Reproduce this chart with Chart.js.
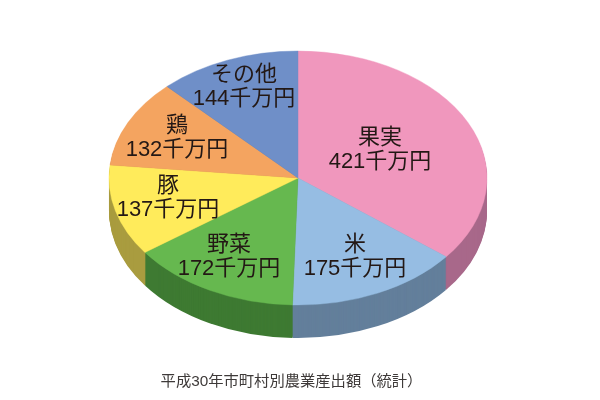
<!DOCTYPE html>
<html lang="ja">
<head>
<meta charset="utf-8">
<style>
  html, body { margin: 0; padding: 0; background: #fff; }
  #wrap { width: 600px; height: 400px; }
</style>
<script src="https://cdn.jsdelivr.net/npm/chart.js@4"></script>
</head>
<body>
<div id="wrap"><canvas id="pie"></canvas></div>
<script>
const categories = ['果実', '米', '野菜', '豚', '鶏', 'その他'];
const values = [421, 175, 172, 137, 132, 144];
const valueLabels = ['421千万円', '175千万円', '172千万円', '137千万円', '132千万円', '144千万円'];
const topColors = ['#f097bd', '#96bde3', '#66b84f', '#ffeb5b', '#f4a460', '#6f8fc8'];
const sideColors = ['#a8688a', '#637f9b', '#3e7a32', '#a99c3f', '#a8703f', '#4c6288'];
const caption = '平成30年市町村別農業産出額（統計）';

// Liberation first so the digits come out Helvetica-like
const TEXT_FONT = '"Liberation Sans", "Noto Sans CJK JP", sans-serif';
const CX = 298, CY = 178, RX = 189, RY = 127, DEPTH = 33;

// label centres, one per slice
const labelSpots = [[380, 138], [355, 245], [229, 245], [168, 186], [177, 126], [244, 75]];

// squash the circle into an ellipse, also used for the side wall
function project(ctx, arc) {
  ctx.translate(CX, CY);
  ctx.scale(1, RY / RX);
  ctx.translate(-arc.x, -arc.y);
}

const tiltedPie = {
  id: 'tiltedPie',
  beforeDatasetDraw(chart) {
    const ctx = chart.ctx;
    const arcs = chart.getDatasetMeta(0).data;

    // side wall: stack of darker copies from the bottom up
    for (let d = DEPTH; d >= 1; d--) {
      arcs.forEach((arc, i) => {
        ctx.save();
        ctx.translate(0, d);
        project(ctx, arc);
        ctx.fillStyle = sideColors[i];
        ctx.beginPath();
        ctx.moveTo(arc.x, arc.y);
        ctx.arc(arc.x, arc.y, arc.outerRadius, arc.startAngle, arc.endAngle);
        ctx.closePath();
        ctx.fill();
        ctx.restore();
      });
    }

    ctx.save();
    project(ctx, arcs[0]);
  },
  afterDatasetDraw(chart) {
    chart.ctx.restore();
  },
  afterDraw(chart) {
    const ctx = chart.ctx;
    ctx.save();
    ctx.fillStyle = '#231815';
    ctx.textAlign = 'center';
    ctx.textBaseline = 'middle';
    ctx.font = '22px ' + TEXT_FONT;
    categories.forEach((name, i) => {
      const [x, y] = labelSpots[i];
      ctx.fillText(name, x, y);
      ctx.fillText(valueLabels[i], x, y + 24);
    });
    ctx.font = '15.3px ' + TEXT_FONT;
    ctx.fillStyle = '#3e3a39';
    ctx.fillText(caption, 291.5, 382);
    ctx.restore();
  }
};

new Chart(document.getElementById('pie'), {
  type: 'pie',
  data: {
    labels: categories,
    datasets: [{
      data: values,
      backgroundColor: topColors,
      borderColor: topColors,
      borderWidth: 0.5
    }]
  },
  options: {
    responsive: true,
    maintainAspectRatio: false,
    animation: false,
    events: [],
    radius: RX,
    layout: { padding: 0 },
    plugins: {
      legend: { display: false },
      tooltip: { enabled: false }
    }
  },
  plugins: [tiltedPie]
});
</script>
</body>
</html>
